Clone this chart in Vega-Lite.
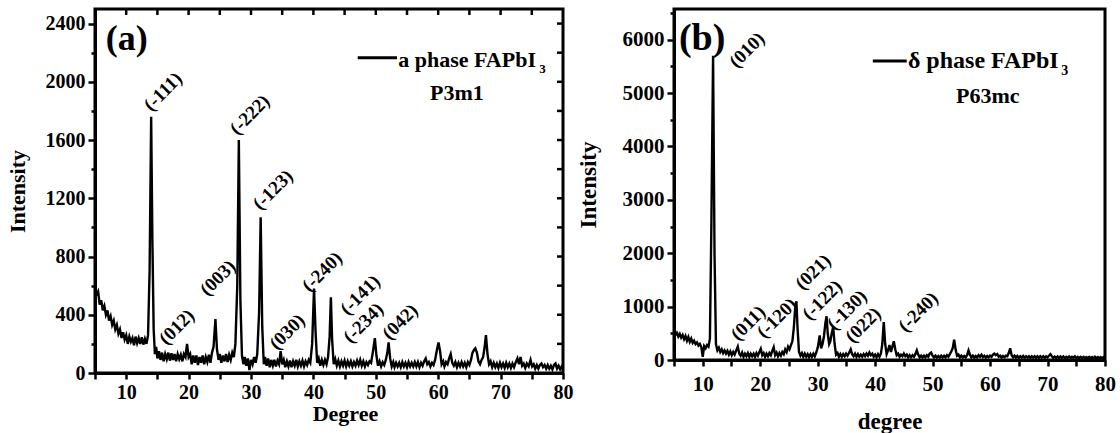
{
  "$schema": "https://vega.github.io/schema/vega-lite/v6.json",
  "padding": {"left": 4, "top": 0, "right": 2, "bottom": 3},
  "spacing": 0,
  "config": {
    "font": "Liberation Serif, Times New Roman, serif",
    "view": {"stroke": "black", "strokeWidth": 3},
    "axis": {
      "grid": false,
      "domainColor": "black",
      "domainWidth": 3,
      "tickColor": "black",
      "tickWidth": 2.5,
      "labelFont": "Liberation Serif, Times New Roman, serif",
      "labelFontWeight": "bold",
      "labelColor": "black",
      "labelOverlap": false,
      "labelFlush": false,
      "titleFont": "Liberation Serif, Times New Roman, serif",
      "titleFontWeight": "bold",
      "titleColor": "black"
    },
    "text": {"font": "Liberation Serif, Times New Roman, serif", "fontWeight": "bold", "color": "black"}
  },
  "datasets": {
    "alpha": [
      {"deg":5.0,"intensity":600},{"deg":5.25,"intensity":540},{"deg":5.5,"intensity":560},{"deg":5.75,"intensity":470},
      {"deg":6.0,"intensity":500},{"deg":6.25,"intensity":430},{"deg":6.5,"intensity":460},{"deg":6.75,"intensity":400},
      {"deg":7.0,"intensity":430},{"deg":7.25,"intensity":360},{"deg":7.5,"intensity":390},{"deg":7.75,"intensity":330},
      {"deg":8.0,"intensity":360},{"deg":8.25,"intensity":300},{"deg":8.5,"intensity":330},{"deg":8.75,"intensity":270},
      {"deg":9.0,"intensity":300},{"deg":9.25,"intensity":240},{"deg":9.5,"intensity":280},{"deg":9.75,"intensity":230},
      {"deg":10.0,"intensity":260},{"deg":10.25,"intensity":200},{"deg":10.5,"intensity":250},{"deg":10.75,"intensity":215},
      {"deg":11.0,"intensity":240},{"deg":11.25,"intensity":190},{"deg":11.5,"intensity":250},{"deg":11.75,"intensity":205},
      {"deg":12.0,"intensity":240},{"deg":12.25,"intensity":200},{"deg":12.5,"intensity":245},{"deg":12.75,"intensity":195},
      {"deg":13.0,"intensity":235},{"deg":13.25,"intensity":200},{"deg":13.5,"intensity":260},{"deg":13.75,"intensity":700},
      {"deg":14.0,"intensity":1760},{"deg":14.2,"intensity":900},{"deg":14.4,"intensity":300},{"deg":14.6,"intensity":130},
      {"deg":14.8,"intensity":180},{"deg":15.0,"intensity":100},{"deg":15.25,"intensity":150},{"deg":15.5,"intensity":90},
      {"deg":15.75,"intensity":140},{"deg":16.0,"intensity":80},{"deg":16.25,"intensity":130},{"deg":16.5,"intensity":95},
      {"deg":16.75,"intensity":140},{"deg":17.0,"intensity":85},{"deg":17.25,"intensity":135},{"deg":17.5,"intensity":90},
      {"deg":17.75,"intensity":130},{"deg":18.0,"intensity":80},{"deg":18.25,"intensity":130},{"deg":18.5,"intensity":95},
      {"deg":18.75,"intensity":125},{"deg":19.0,"intensity":80},{"deg":19.25,"intensity":130},{"deg":19.5,"intensity":110},
      {"deg":19.75,"intensity":200},{"deg":20.0,"intensity":110},{"deg":20.25,"intensity":130},{"deg":20.5,"intensity":60},
      {"deg":20.75,"intensity":120},{"deg":21.0,"intensity":70},{"deg":21.25,"intensity":120},{"deg":21.5,"intensity":55},
      {"deg":21.75,"intensity":110},{"deg":22.0,"intensity":70},{"deg":22.25,"intensity":120},{"deg":22.5,"intensity":60},
      {"deg":22.75,"intensity":110},{"deg":23.0,"intensity":75},{"deg":23.25,"intensity":125},{"deg":23.5,"intensity":70},
      {"deg":23.75,"intensity":140},{"deg":24.0,"intensity":180},{"deg":24.3,"intensity":370},{"deg":24.55,"intensity":160},
      {"deg":24.8,"intensity":90},{"deg":25.0,"intensity":130},{"deg":25.25,"intensity":70},{"deg":25.5,"intensity":120},
      {"deg":25.75,"intensity":80},{"deg":26.0,"intensity":130},{"deg":26.25,"intensity":75},{"deg":26.5,"intensity":125},
      {"deg":26.75,"intensity":90},{"deg":27.0,"intensity":140},{"deg":27.25,"intensity":110},{"deg":27.5,"intensity":200},
      {"deg":27.8,"intensity":600},{"deg":28.05,"intensity":1600},{"deg":28.3,"intensity":500},{"deg":28.55,"intensity":120},
      {"deg":28.8,"intensity":60},{"deg":29.0,"intensity":110},{"deg":29.25,"intensity":50},{"deg":29.5,"intensity":100},
      {"deg":29.75,"intensity":20},{"deg":30.0,"intensity":90},{"deg":30.25,"intensity":60},{"deg":30.5,"intensity":110},
      {"deg":30.75,"intensity":70},{"deg":31.0,"intensity":130},{"deg":31.3,"intensity":420},{"deg":31.55,"intensity":1070},
      {"deg":31.8,"intensity":320},{"deg":32.05,"intensity":60},{"deg":32.25,"intensity":110},{"deg":32.5,"intensity":50},
      {"deg":32.75,"intensity":100},{"deg":33.0,"intensity":40},{"deg":33.25,"intensity":90},{"deg":33.5,"intensity":50},
      {"deg":33.75,"intensity":90},{"deg":34.0,"intensity":45},{"deg":34.25,"intensity":85},{"deg":34.5,"intensity":60},
      {"deg":34.75,"intensity":150},{"deg":35.0,"intensity":60},{"deg":35.25,"intensity":90},{"deg":35.5,"intensity":40},
      {"deg":35.75,"intensity":80},{"deg":36.0,"intensity":45},{"deg":36.25,"intensity":85},{"deg":36.5,"intensity":40},
      {"deg":36.75,"intensity":80},{"deg":37.0,"intensity":50},{"deg":37.25,"intensity":90},{"deg":37.5,"intensity":45},
      {"deg":37.75,"intensity":80},{"deg":38.0,"intensity":50},{"deg":38.25,"intensity":85},{"deg":38.5,"intensity":45},
      {"deg":38.75,"intensity":80},{"deg":39.0,"intensity":55},{"deg":39.25,"intensity":90},{"deg":39.5,"intensity":70},
      {"deg":39.8,"intensity":200},{"deg":40.1,"intensity":580},{"deg":40.35,"intensity":280},{"deg":40.6,"intensity":70},
      {"deg":40.85,"intensity":100},{"deg":41.1,"intensity":50},{"deg":41.35,"intensity":90},{"deg":41.6,"intensity":55},
      {"deg":41.85,"intensity":90},{"deg":42.1,"intensity":60},{"deg":42.35,"intensity":110},{"deg":42.6,"intensity":250},
      {"deg":42.8,"intensity":520},{"deg":43.0,"intensity":230},{"deg":43.25,"intensity":60},{"deg":43.5,"intensity":95},
      {"deg":43.75,"intensity":50},{"deg":44.0,"intensity":85},{"deg":44.25,"intensity":45},{"deg":44.5,"intensity":80},
      {"deg":44.75,"intensity":50},{"deg":45.0,"intensity":85},{"deg":45.25,"intensity":45},{"deg":45.5,"intensity":80},
      {"deg":45.75,"intensity":50},{"deg":46.0,"intensity":80},{"deg":46.25,"intensity":45},{"deg":46.5,"intensity":75},
      {"deg":46.75,"intensity":50},{"deg":47.0,"intensity":85},{"deg":47.25,"intensity":55},{"deg":47.5,"intensity":90},
      {"deg":47.75,"intensity":50},{"deg":48.0,"intensity":80},{"deg":48.25,"intensity":45},{"deg":48.5,"intensity":75},
      {"deg":48.75,"intensity":55},{"deg":49.0,"intensity":80},{"deg":49.25,"intensity":70},{"deg":49.55,"intensity":150},
      {"deg":49.85,"intensity":240},{"deg":50.1,"intensity":120},{"deg":50.35,"intensity":50},{"deg":50.6,"intensity":80},
      {"deg":50.85,"intensity":45},{"deg":51.1,"intensity":75},{"deg":51.35,"intensity":55},{"deg":51.6,"intensity":90},
      {"deg":51.85,"intensity":140},{"deg":52.05,"intensity":210},{"deg":52.3,"intensity":100},{"deg":52.55,"intensity":45},
      {"deg":52.8,"intensity":75},{"deg":53.0,"intensity":40},{"deg":53.25,"intensity":70},{"deg":53.5,"intensity":45},
      {"deg":53.75,"intensity":70},{"deg":54.0,"intensity":40},{"deg":54.25,"intensity":75},{"deg":54.5,"intensity":45},
      {"deg":54.75,"intensity":70},{"deg":55.0,"intensity":40},{"deg":55.25,"intensity":75},{"deg":55.5,"intensity":45},
      {"deg":55.75,"intensity":70},{"deg":56.0,"intensity":45},{"deg":56.25,"intensity":75},{"deg":56.5,"intensity":45},
      {"deg":56.75,"intensity":75},{"deg":57.0,"intensity":40},{"deg":57.25,"intensity":70},{"deg":57.5,"intensity":50},
      {"deg":57.75,"intensity":80},{"deg":58.0,"intensity":100},{"deg":58.25,"intensity":60},{"deg":58.5,"intensity":75},
      {"deg":58.75,"intensity":45},{"deg":59.0,"intensity":70},{"deg":59.25,"intensity":55},{"deg":59.5,"intensity":90},
      {"deg":59.8,"intensity":160},{"deg":60.05,"intensity":210},{"deg":60.3,"intensity":150},{"deg":60.55,"intensity":60},
      {"deg":60.8,"intensity":80},{"deg":61.0,"intensity":45},{"deg":61.25,"intensity":75},{"deg":61.5,"intensity":60},
      {"deg":61.75,"intensity":100},{"deg":62.0,"intensity":130},{"deg":62.25,"intensity":70},{"deg":62.5,"intensity":50},
      {"deg":62.75,"intensity":75},{"deg":63.0,"intensity":40},{"deg":63.25,"intensity":70},{"deg":63.5,"intensity":45},
      {"deg":63.75,"intensity":75},{"deg":64.0,"intensity":45},{"deg":64.25,"intensity":70},{"deg":64.5,"intensity":40},
      {"deg":64.75,"intensity":75},{"deg":65.0,"intensity":55},{"deg":65.25,"intensity":90},{"deg":65.5,"intensity":140},
      {"deg":65.75,"intensity":160},{"deg":65.95,"intensity":170},{"deg":66.2,"intensity":140},{"deg":66.45,"intensity":80},
      {"deg":66.7,"intensity":60},{"deg":66.95,"intensity":90},{"deg":67.2,"intensity":110},{"deg":67.45,"intensity":180},
      {"deg":67.65,"intensity":260},{"deg":67.9,"intensity":130},{"deg":68.15,"intensity":60},{"deg":68.4,"intensity":80},
      {"deg":68.65,"intensity":40},{"deg":68.9,"intensity":70},{"deg":69.15,"intensity":40},{"deg":69.4,"intensity":65},
      {"deg":69.65,"intensity":35},{"deg":69.9,"intensity":70},{"deg":70.15,"intensity":40},{"deg":70.4,"intensity":65},
      {"deg":70.65,"intensity":35},{"deg":70.9,"intensity":70},{"deg":71.15,"intensity":40},{"deg":71.4,"intensity":65},
      {"deg":71.65,"intensity":35},{"deg":71.9,"intensity":65},{"deg":72.15,"intensity":40},{"deg":72.4,"intensity":70},
      {"deg":72.7,"intensity":100},{"deg":72.95,"intensity":60},{"deg":73.2,"intensity":110},{"deg":73.45,"intensity":50},
      {"deg":73.7,"intensity":65},{"deg":73.95,"intensity":35},{"deg":74.2,"intensity":65},{"deg":74.5,"intensity":45},
      {"deg":74.8,"intensity":90},{"deg":75.05,"intensity":45},{"deg":75.3,"intensity":60},{"deg":75.55,"intensity":30},
      {"deg":75.8,"intensity":55},{"deg":76.05,"intensity":30},{"deg":76.3,"intensity":55},{"deg":76.55,"intensity":65},
      {"deg":76.8,"intensity":40},{"deg":77.05,"intensity":55},{"deg":77.3,"intensity":30},{"deg":77.55,"intensity":55},
      {"deg":77.8,"intensity":30},{"deg":78.05,"intensity":50},{"deg":78.3,"intensity":25},{"deg":78.55,"intensity":55},
      {"deg":78.8,"intensity":65},{"deg":79.05,"intensity":30},{"deg":79.3,"intensity":50},{"deg":79.55,"intensity":25},
      {"deg":79.8,"intensity":45},{"deg":80.0,"intensity":35}
    ],
    "delta": [
      {"deg":5.0,"intensity":530},{"deg":5.25,"intensity":470},{"deg":5.5,"intensity":510},{"deg":5.75,"intensity":440},
      {"deg":6.0,"intensity":490},{"deg":6.25,"intensity":420},{"deg":6.5,"intensity":470},{"deg":6.75,"intensity":390},
      {"deg":7.0,"intensity":450},{"deg":7.25,"intensity":360},{"deg":7.5,"intensity":430},{"deg":7.75,"intensity":340},
      {"deg":8.0,"intensity":400},{"deg":8.25,"intensity":320},{"deg":8.5,"intensity":360},{"deg":8.75,"intensity":300},
      {"deg":9.0,"intensity":330},{"deg":9.25,"intensity":270},{"deg":9.5,"intensity":300},{"deg":9.75,"intensity":240},
      {"deg":10.0,"intensity":60},{"deg":10.25,"intensity":260},{"deg":10.5,"intensity":220},{"deg":10.75,"intensity":280},
      {"deg":11.0,"intensity":250},{"deg":11.25,"intensity":400},{"deg":11.5,"intensity":2500},{"deg":11.8,"intensity":5700},
      {"deg":12.05,"intensity":2000},{"deg":12.3,"intensity":300},{"deg":12.55,"intensity":180},{"deg":12.8,"intensity":230},
      {"deg":13.05,"intensity":150},{"deg":13.3,"intensity":200},{"deg":13.55,"intensity":130},{"deg":13.8,"intensity":180},
      {"deg":14.05,"intensity":120},{"deg":14.3,"intensity":170},{"deg":14.55,"intensity":100},{"deg":14.8,"intensity":160},
      {"deg":15.05,"intensity":90},{"deg":15.3,"intensity":150},{"deg":15.55,"intensity":100},{"deg":15.8,"intensity":170},
      {"deg":16.1,"intensity":250},{"deg":16.35,"intensity":120},{"deg":16.6,"intensity":80},{"deg":16.85,"intensity":140},
      {"deg":17.1,"intensity":60},{"deg":17.35,"intensity":120},{"deg":17.6,"intensity":70},{"deg":17.85,"intensity":130},
      {"deg":18.1,"intensity":60},{"deg":18.35,"intensity":120},{"deg":18.6,"intensity":70},{"deg":18.85,"intensity":120},
      {"deg":19.1,"intensity":60},{"deg":19.35,"intensity":130},{"deg":19.6,"intensity":80},{"deg":19.85,"intensity":150},
      {"deg":20.1,"intensity":210},{"deg":20.35,"intensity":90},{"deg":20.6,"intensity":130},{"deg":20.85,"intensity":60},
      {"deg":21.1,"intensity":120},{"deg":21.35,"intensity":70},{"deg":21.6,"intensity":130},{"deg":21.85,"intensity":90},
      {"deg":22.1,"intensity":170},{"deg":22.35,"intensity":240},{"deg":22.6,"intensity":90},{"deg":22.85,"intensity":140},
      {"deg":23.1,"intensity":70},{"deg":23.35,"intensity":130},{"deg":23.6,"intensity":80},{"deg":23.85,"intensity":150},
      {"deg":24.1,"intensity":110},{"deg":24.35,"intensity":200},{"deg":24.6,"intensity":150},{"deg":24.85,"intensity":250},
      {"deg":25.1,"intensity":200},{"deg":25.35,"intensity":280},{"deg":25.6,"intensity":350},{"deg":25.85,"intensity":600},
      {"deg":26.1,"intensity":1000},{"deg":26.3,"intensity":1100},{"deg":26.5,"intensity":600},{"deg":26.75,"intensity":150},
      {"deg":27.0,"intensity":80},{"deg":27.25,"intensity":130},{"deg":27.5,"intensity":60},{"deg":27.75,"intensity":120},
      {"deg":28.0,"intensity":60},{"deg":28.25,"intensity":110},{"deg":28.5,"intensity":50},{"deg":28.75,"intensity":110},
      {"deg":29.0,"intensity":60},{"deg":29.25,"intensity":120},{"deg":29.5,"intensity":70},{"deg":29.75,"intensity":140},
      {"deg":30.05,"intensity":250},{"deg":30.35,"intensity":460},{"deg":30.6,"intensity":220},{"deg":30.85,"intensity":300},
      {"deg":31.1,"intensity":450},{"deg":31.35,"intensity":700},{"deg":31.55,"intensity":820},{"deg":31.75,"intensity":500},
      {"deg":32.0,"intensity":300},{"deg":32.2,"intensity":350},{"deg":32.45,"intensity":500},{"deg":32.7,"intensity":620},
      {"deg":32.95,"intensity":300},{"deg":33.2,"intensity":100},{"deg":33.45,"intensity":130},{"deg":33.7,"intensity":60},
      {"deg":33.95,"intensity":110},{"deg":34.2,"intensity":60},{"deg":34.45,"intensity":110},{"deg":34.7,"intensity":70},
      {"deg":34.95,"intensity":120},{"deg":35.2,"intensity":80},{"deg":35.45,"intensity":130},{"deg":35.75,"intensity":200},
      {"deg":36.0,"intensity":110},{"deg":36.25,"intensity":70},{"deg":36.5,"intensity":120},{"deg":36.75,"intensity":60},
      {"deg":37.0,"intensity":110},{"deg":37.25,"intensity":60},{"deg":37.5,"intensity":100},{"deg":37.75,"intensity":60},
      {"deg":38.0,"intensity":110},{"deg":38.25,"intensity":70},{"deg":38.5,"intensity":120},{"deg":38.75,"intensity":80},
      {"deg":39.0,"intensity":140},{"deg":39.25,"intensity":90},{"deg":39.5,"intensity":120},{"deg":39.75,"intensity":60},
      {"deg":40.0,"intensity":100},{"deg":40.25,"intensity":50},{"deg":40.5,"intensity":110},{"deg":40.75,"intensity":60},
      {"deg":41.0,"intensity":120},{"deg":41.25,"intensity":300},{"deg":41.5,"intensity":710},{"deg":41.75,"intensity":300},
      {"deg":42.0,"intensity":110},{"deg":42.25,"intensity":180},{"deg":42.5,"intensity":280},{"deg":42.75,"intensity":150},
      {"deg":43.0,"intensity":250},{"deg":43.25,"intensity":350},{"deg":43.5,"intensity":200},{"deg":43.75,"intensity":90},
      {"deg":44.0,"intensity":120},{"deg":44.25,"intensity":60},{"deg":44.5,"intensity":100},{"deg":44.75,"intensity":70},
      {"deg":45.0,"intensity":120},{"deg":45.25,"intensity":70},{"deg":45.5,"intensity":100},{"deg":45.75,"intensity":50},
      {"deg":46.0,"intensity":90},{"deg":46.25,"intensity":50},{"deg":46.5,"intensity":90},{"deg":46.75,"intensity":60},
      {"deg":47.0,"intensity":110},{"deg":47.25,"intensity":180},{"deg":47.5,"intensity":100},{"deg":47.75,"intensity":50},
      {"deg":48.0,"intensity":80},{"deg":48.25,"intensity":45},{"deg":48.5,"intensity":80},{"deg":48.75,"intensity":50},
      {"deg":49.0,"intensity":90},{"deg":49.25,"intensity":60},{"deg":49.5,"intensity":120},{"deg":49.75,"intensity":140},
      {"deg":50.0,"intensity":80},{"deg":50.25,"intensity":50},{"deg":50.5,"intensity":80},{"deg":50.75,"intensity":45},
      {"deg":51.0,"intensity":75},{"deg":51.25,"intensity":45},{"deg":51.5,"intensity":80},{"deg":51.75,"intensity":50},
      {"deg":52.0,"intensity":80},{"deg":52.25,"intensity":50},{"deg":52.5,"intensity":90},{"deg":52.75,"intensity":60},
      {"deg":53.0,"intensity":110},{"deg":53.25,"intensity":160},{"deg":53.5,"intensity":220},{"deg":53.75,"intensity":380},
      {"deg":54.0,"intensity":200},{"deg":54.25,"intensity":80},{"deg":54.5,"intensity":100},{"deg":54.75,"intensity":50},
      {"deg":55.0,"intensity":80},{"deg":55.25,"intensity":45},{"deg":55.5,"intensity":75},{"deg":55.75,"intensity":50},
      {"deg":56.0,"intensity":90},{"deg":56.25,"intensity":180},{"deg":56.5,"intensity":100},{"deg":56.75,"intensity":50},
      {"deg":57.0,"intensity":80},{"deg":57.25,"intensity":45},{"deg":57.5,"intensity":75},{"deg":57.75,"intensity":50},
      {"deg":58.0,"intensity":90},{"deg":58.25,"intensity":60},{"deg":58.5,"intensity":100},{"deg":58.75,"intensity":55},
      {"deg":59.0,"intensity":80},{"deg":59.25,"intensity":45},{"deg":59.5,"intensity":75},{"deg":59.75,"intensity":50},
      {"deg":60.0,"intensity":80},{"deg":60.25,"intensity":60},{"deg":60.5,"intensity":100},{"deg":60.75,"intensity":120},
      {"deg":61.0,"intensity":90},{"deg":61.25,"intensity":110},{"deg":61.5,"intensity":60},{"deg":61.75,"intensity":80},
      {"deg":62.0,"intensity":45},{"deg":62.25,"intensity":75},{"deg":62.5,"intensity":50},{"deg":62.75,"intensity":80},
      {"deg":63.0,"intensity":70},{"deg":63.25,"intensity":130},{"deg":63.5,"intensity":220},{"deg":63.75,"intensity":90},
      {"deg":64.0,"intensity":50},{"deg":64.25,"intensity":80},{"deg":64.5,"intensity":45},{"deg":64.75,"intensity":75},
      {"deg":65.0,"intensity":40},{"deg":65.25,"intensity":70},{"deg":65.5,"intensity":45},{"deg":65.75,"intensity":75},
      {"deg":66.0,"intensity":40},{"deg":66.25,"intensity":70},{"deg":66.5,"intensity":45},{"deg":66.75,"intensity":70},
      {"deg":67.0,"intensity":40},{"deg":67.25,"intensity":70},{"deg":67.5,"intensity":45},{"deg":67.75,"intensity":70},
      {"deg":68.0,"intensity":40},{"deg":68.25,"intensity":70},{"deg":68.5,"intensity":40},{"deg":68.75,"intensity":70},
      {"deg":69.0,"intensity":45},{"deg":69.25,"intensity":70},{"deg":69.5,"intensity":40},{"deg":69.75,"intensity":70},
      {"deg":70.0,"intensity":50},{"deg":70.25,"intensity":80},{"deg":70.5,"intensity":110},{"deg":70.75,"intensity":70},
      {"deg":71.0,"intensity":40},{"deg":71.25,"intensity":65},{"deg":71.5,"intensity":40},{"deg":71.75,"intensity":65},
      {"deg":72.0,"intensity":35},{"deg":72.25,"intensity":65},{"deg":72.5,"intensity":40},{"deg":72.75,"intensity":65},
      {"deg":73.0,"intensity":35},{"deg":73.25,"intensity":60},{"deg":73.5,"intensity":40},{"deg":73.75,"intensity":65},
      {"deg":74.0,"intensity":35},{"deg":74.25,"intensity":60},{"deg":74.5,"intensity":40},{"deg":74.75,"intensity":70},
      {"deg":75.0,"intensity":35},{"deg":75.25,"intensity":60},{"deg":75.5,"intensity":35},{"deg":75.75,"intensity":60},
      {"deg":76.0,"intensity":35},{"deg":76.25,"intensity":60},{"deg":76.5,"intensity":35},{"deg":76.75,"intensity":55},
      {"deg":77.0,"intensity":35},{"deg":77.25,"intensity":60},{"deg":77.5,"intensity":35},{"deg":77.75,"intensity":55},
      {"deg":78.0,"intensity":30},{"deg":78.25,"intensity":60},{"deg":78.5,"intensity":35},{"deg":78.75,"intensity":55},
      {"deg":79.0,"intensity":30},{"deg":79.25,"intensity":55},{"deg":79.5,"intensity":30},{"deg":79.75,"intensity":55},
      {"deg":80.0,"intensity":40}
    ],
    "alphaPeaks": [
      {"label":"(-111)","deg":15.9,"intensity":1932},
      {"label":"(-222)","deg":29.8,"intensity":1774},
      {"label":"(-123)","deg":33.5,"intensity":1258},
      {"label":"(012)","deg":18.1,"intensity":316},
      {"label":"(003)","deg":24.7,"intensity":653},
      {"label":"(030)","deg":35.8,"intensity":282},
      {"label":"(-240)","deg":41.4,"intensity":695},
      {"label":"(-141)","deg":47.5,"intensity":536},
      {"label":"(-234)","deg":48.0,"intensity":344},
      {"label":"(042)","deg":53.9,"intensity":351}
    ],
    "deltaPeaks": [
      {"label":"(010)","deg":17.7,"intensity":5807},
      {"label":"(011)","deg":17.9,"intensity":693},
      {"label":"(-120)","deg":22.9,"intensity":787},
      {"label":"(021)","deg":29.2,"intensity":1649},
      {"label":"(-122)","deg":30.8,"intensity":1124},
      {"label":"(-130)","deg":35.1,"intensity":937},
      {"label":"(022)","deg":37.9,"intensity":656},
      {"label":"(-240)","deg":47.5,"intensity":899}
    ],
    "topTicks": [
      {"deg":10},{"deg":15},{"deg":20},{"deg":25},{"deg":30},{"deg":35},{"deg":40},
      {"deg":45},{"deg":50},{"deg":55},{"deg":60},{"deg":65},{"deg":70},{"deg":75}
    ],
    "rightTicks": [
      {"intensity":200},{"intensity":400},{"intensity":600},{"intensity":800},{"intensity":1000},{"intensity":1200},
      {"intensity":1400},{"intensity":1600},{"intensity":1800},{"intensity":2000},{"intensity":2200},{"intensity":2400}
    ]
  },
  "hconcat": [
    {
      "width": 468,
      "height": 364,
      "resolve": {"axis": {"x": "independent", "y": "independent"}},
      "layer": [
        {
          "data": {"name": "alpha"},
          "mark": {"type": "line", "color": "black", "strokeWidth": 2.4},
          "encoding": {
            "x": {"field": "deg", "type": "quantitative",
              "scale": {"domain": [5, 80], "nice": false, "zero": false},
              "axis": {"orient": "bottom", "title": "Degree", "titleFontSize": 22, "titlePadding": 1, "titleX": 250,
                "values": [5,10,15,20,25,30,35,40,45,50,55,60,65,70,75,80],
                "labelExpr": "datum.value % 10 === 0 ? datum.label : ''",
                "labelFontSize": 20, "labelPadding": 3, "tickSize": 6}},
            "y": {"field": "intensity", "type": "quantitative",
              "scale": {"domain": [0, 2500], "nice": false},
              "axis": {"orient": "left", "title": "Intensity", "titleFontSize": 22, "titlePadding": 16,
                "values": [0,200,400,600,800,1000,1200,1400,1600,1800,2000,2200,2400],
                "labelExpr": "datum.value % 400 === 0 ? datum.label : ''",
                "format": "d",
                "labelFontSize": 20, "labelPadding": 3,
                "tickSize": {"condition": {"test": "datum.value % 400 !== 0", "value": 4}, "value": 7}}}
          }
        },
        {
          "data": {"name": "topTicks"},
          "mark": {"type": "tick", "orient": "vertical", "size": 12, "thickness": 2.5, "color": "black", "clip": true, "opacity": 1},
          "encoding": {
            "x": {"field": "deg", "type": "quantitative", "axis": null},
            "y": {"datum": 2500, "type": "quantitative", "axis": null}
          }
        },
        {
          "data": {"name": "rightTicks"},
          "mark": {"type": "tick", "orient": "horizontal", "size": 12, "thickness": 2.5, "color": "black", "clip": true, "opacity": 1},
          "encoding": {
            "x": {"datum": 80, "type": "quantitative", "axis": null},
            "y": {"field": "intensity", "type": "quantitative", "axis": null}
          }
        },
        {
          "data": {"name": "alphaPeaks"},
          "mark": {"type": "text", "fontSize": 19, "angle": 315, "align": "center", "baseline": "middle"},
          "encoding": {
            "x": {"field": "deg", "type": "quantitative", "axis": null},
            "y": {"field": "intensity", "type": "quantitative", "axis": null},
            "text": {"field": "label"}
          }
        },
        {
          "data": {"values": [{"deg": 47.1, "deg2": 53.4, "intensity": 2166}]},
          "mark": {"type": "rule", "color": "black", "strokeWidth": 3},
          "encoding": {
            "x": {"field": "deg", "type": "quantitative", "axis": null},
            "x2": {"field": "deg2"},
            "y": {"field": "intensity", "type": "quantitative", "axis": null}
          }
        },
        {
          "data": {"values": [{"text": "a phase FAPbI", "deg": 53.6, "intensity": 2104}]},
          "mark": {"type": "text", "fontSize": 22, "align": "left", "baseline": "alphabetic"},
          "encoding": {
            "x": {"field": "deg", "type": "quantitative", "axis": null},
            "y": {"field": "intensity", "type": "quantitative", "axis": null},
            "text": {"field": "text"}
          }
        },
        {
          "data": {"values": [{"text": "3", "deg": 76.2, "intensity": 2063}]},
          "mark": {"type": "text", "fontSize": 13, "align": "left", "baseline": "alphabetic"},
          "encoding": {
            "x": {"field": "deg", "type": "quantitative", "axis": null},
            "y": {"field": "intensity", "type": "quantitative", "axis": null},
            "text": {"field": "text"}
          }
        },
        {
          "data": {"values": [{"text": "P3m1", "deg": 63.0, "intensity": 1878}]},
          "mark": {"type": "text", "fontSize": 22, "align": "center", "baseline": "alphabetic"},
          "encoding": {
            "x": {"field": "deg", "type": "quantitative", "axis": null},
            "y": {"field": "intensity", "type": "quantitative", "axis": null},
            "text": {"field": "text"}
          }
        },
        {
          "data": {"values": [{"text": "(a)", "deg": 10.1, "intensity": 2221}]},
          "mark": {"type": "text", "fontSize": 36, "align": "center", "baseline": "alphabetic"},
          "encoding": {
            "x": {"field": "deg", "type": "quantitative", "axis": null},
            "y": {"field": "intensity", "type": "quantitative", "axis": null},
            "text": {"field": "text"}
          }
        }
      ]
    },
    {
      "width": 431,
      "height": 351,
      "resolve": {"axis": {"x": "independent", "y": "independent"}},
      "layer": [
        {
          "data": {"name": "delta"},
          "mark": {"type": "line", "color": "black", "strokeWidth": 2.4},
          "encoding": {
            "x": {"field": "deg", "type": "quantitative",
              "scale": {"domain": [5, 80], "nice": false, "zero": false},
              "axis": {"orient": "bottom", "title": "degree", "titleFontSize": 23, "titlePadding": 16,
                "values": [5,10,15,20,25,30,35,40,45,50,55,60,65,70,75,80],
                "labelExpr": "datum.value % 10 === 0 ? datum.label : ''",
                "labelFontSize": 21, "labelPadding": 7, "tickSize": 6}},
            "y": {"field": "intensity", "type": "quantitative",
              "scale": {"domain": [0, 6575], "nice": false},
              "axis": {"orient": "left", "title": "Intensity", "titleFontSize": 23, "titlePadding": 22,
                "values": [0,500,1000,1500,2000,2500,3000,3500,4000,4500,5000,5500,6000,6500],
                "labelExpr": "datum.value % 1000 === 0 ? datum.label : ''",
                "format": "d",
                "labelFontSize": 21, "labelPadding": 3,
                "tickSize": {"condition": {"test": "datum.value % 1000 !== 0", "value": 4}, "value": 7}}}
          }
        },
        {
          "data": {"name": "deltaPeaks"},
          "mark": {"type": "text", "fontSize": 19, "angle": 315, "align": "center", "baseline": "middle"},
          "encoding": {
            "x": {"field": "deg", "type": "quantitative", "axis": null},
            "y": {"field": "intensity", "type": "quantitative", "axis": null},
            "text": {"field": "label"}
          }
        },
        {
          "data": {"values": [{"deg": 39.6, "deg2": 45.5, "intensity": 5601}]},
          "mark": {"type": "rule", "color": "black", "strokeWidth": 3},
          "encoding": {
            "x": {"field": "deg", "type": "quantitative", "axis": null},
            "x2": {"field": "deg2"},
            "y": {"field": "intensity", "type": "quantitative", "axis": null}
          }
        },
        {
          "data": {"values": [{"text": "δ phase FAPbI", "deg": 45.7, "intensity": 5470}]},
          "mark": {"type": "text", "fontSize": 24, "align": "left", "baseline": "alphabetic"},
          "encoding": {
            "x": {"field": "deg", "type": "quantitative", "axis": null},
            "y": {"field": "intensity", "type": "quantitative", "axis": null},
            "text": {"field": "text"}
          }
        },
        {
          "data": {"values": [{"text": "3", "deg": 72.4, "intensity": 5339}]},
          "mark": {"type": "text", "fontSize": 14, "align": "left", "baseline": "alphabetic"},
          "encoding": {
            "x": {"field": "deg", "type": "quantitative", "axis": null},
            "y": {"field": "intensity", "type": "quantitative", "axis": null},
            "text": {"field": "text"}
          }
        },
        {
          "data": {"values": [{"text": "P63mc", "deg": 59.6, "intensity": 4815}]},
          "mark": {"type": "text", "fontSize": 22, "align": "center", "baseline": "alphabetic"},
          "encoding": {
            "x": {"field": "deg", "type": "quantitative", "axis": null},
            "y": {"field": "intensity", "type": "quantitative", "axis": null},
            "text": {"field": "text"}
          }
        },
        {
          "data": {"values": [{"text": "(b)", "deg": 9.9, "intensity": 5807}]},
          "mark": {"type": "text", "fontSize": 38, "align": "center", "baseline": "alphabetic"},
          "encoding": {
            "x": {"field": "deg", "type": "quantitative", "axis": null},
            "y": {"field": "intensity", "type": "quantitative", "axis": null},
            "text": {"field": "text"}
          }
        }
      ]
    }
  ]
}
